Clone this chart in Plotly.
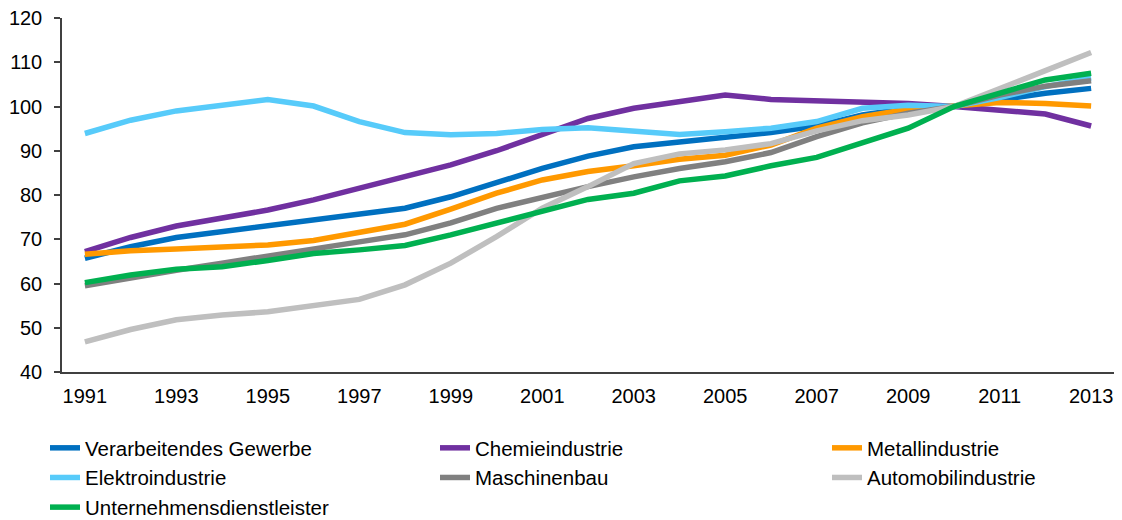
import plotly.graph_objects as go

years = list(range(1991, 2014))
tick_years = list(range(1991, 2014, 2))

verarbeitendes = [65.7, 68.3, 70.4, 71.7, 72.8, 74.1, 75.4, 77.0, 79.6, 82.8, 86.0, 88.8, 90.9, 92.0, 93.0, 94.1, 95.6, 98.1, 99.6, 100.0, 101.5, 103.0, 104.1]
chemie = [67.2, 70.4, 73.0, 74.7, 76.6, 78.9, 81.5, 84.0, 86.8, 90.0, 93.6, 97.3, 99.6, 101.1, 102.6, 101.6, 101.3, 101.1, 100.7, 100.0, 99.0, 98.3, 95.6]
metall = [66.6, 67.4, 67.8, 68.2, 68.7, 69.7, 71.7, 73.4, 76.8, 80.4, 83.4, 85.3, 86.6, 88.1, 89.0, 91.3, 95.1, 97.7, 99.4, 100.0, 100.9, 100.7, 100.1]
elektro = [93.9, 96.9, 99.0, 100.3, 101.6, 100.1, 96.6, 94.1, 93.6, 93.9, 94.8, 95.2, 94.3, 93.7, 94.3, 95.1, 96.6, 99.6, 100.3, 100.0, 102.0, 104.5, 106.5]
maschinenbau = [59.5, 61.4, 63.0, 64.6, 66.1, 67.6, 69.4, 71.0, 73.7, 77.0, 79.6, 81.9, 84.1, 86.0, 87.5, 89.6, 93.2, 96.3, 98.5, 100.0, 102.6, 104.6, 105.8]
automobil = [46.8, 49.6, 51.8, 52.9, 53.6, 55.1, 56.4, 59.7, 64.6, 70.6, 77.0, 81.9, 87.1, 89.3, 90.2, 91.6, 94.5, 96.8, 98.1, 100.0, 103.9, 108.1, 112.2]
dienstleister = [60.2, 61.9, 63.2, 63.8, 65.2, 66.8, 67.6, 68.6, 71.0, 73.6, 76.2, 79.0, 80.4, 83.2, 84.3, 86.6, 88.5, 91.8, 95.1, 100.0, 103.0, 106.0, 107.5]

series_names = ["Verarbeitendes Gewerbe", "Chemieindustrie", "Metallindustrie",
                "Elektroindustrie", "Maschinenbau", "Automobilindustrie",
                "Unternehmensdienstleister"]
series_values = [verarbeitendes, chemie, metall, elektro, maschinenbau, automobil, dienstleister]
series_colors = ["#0070C0", "#7030A0", "#FF9900", "#57CBFA", "#808080", "#BFBFBF", "#00B050"]
# legend column of each series (three columns, filled row by row)
series_legend = ["legend", "legend2", "legend3", "legend", "legend2", "legend3", "legend"]

FONT = "Liberation Sans, Arial, sans-serif"
W, H = 1122, 520
AXIS_COLOR = "#404040"

fig = go.Figure()
for name, vals, col, lg in zip(series_names, series_values, series_colors, series_legend):
    fig.add_trace(go.Scatter(x=years, y=vals, name=name, mode="lines", legend=lg,
                             line=dict(color=col, width=5.5)))

legend_font = dict(family=FONT, size=20.5, color="black")
legend_top = 1 - 428 / H


def legend_at(px):
    return dict(orientation="v", xref="container", yref="container",
                x=px / W, xanchor="left", y=legend_top, yanchor="top",
                font=legend_font, traceorder="normal", bgcolor="rgba(0,0,0,0)",
                borderwidth=0)


fig.update_layout(
    width=W, height=H,
    margin=dict(l=62, r=8, t=18, b=148, autoexpand=False),
    paper_bgcolor="white", plot_bgcolor="white",
    font=dict(family=FONT, size=20, color="black"),
    showlegend=True,
    legend=legend_at(45),
    legend2=legend_at(435),
    legend3=legend_at(827),
)
# small extension of the category axis line to the left of the value axis
fig.add_shape(type="line", xref="paper", yref="paper", x0=-6 / 1052, x1=0, y0=0, y1=0,
              line=dict(color=AXIS_COLOR, width=1.5))
fig.update_xaxes(range=[1990.5, 2013.5], tickvals=tick_years, ticktext=[str(y) for y in tick_years],
                 showgrid=False, zeroline=False, showline=True, linecolor=AXIS_COLOR, linewidth=1.5,
                 ticks="", ticklabelstandoff=5, tickfont=dict(size=20), automargin=False)
fig.update_yaxes(range=[40, 120], dtick=10, showgrid=False, zeroline=False,
                 showline=True, linecolor=AXIS_COLOR, linewidth=1.5,
                 ticks="outside", ticklen=6, tickcolor=AXIS_COLOR, tickwidth=1.5,
                 ticklabelstandoff=8, tickfont=dict(size=20), automargin=False)

fig.write_html("out.html", config={"displayModeBar": False},
               post_script="document.body.style.margin='0';document.body.style.overflow='hidden';")
